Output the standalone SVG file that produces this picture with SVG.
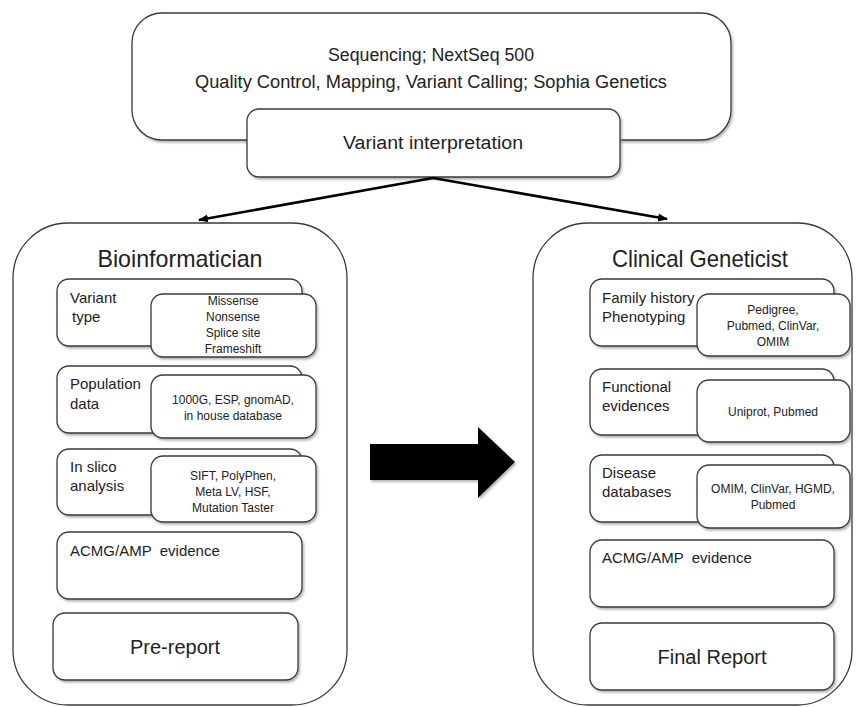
<svg xmlns="http://www.w3.org/2000/svg" width="856" height="707" viewBox="0 0 856 707">
<defs>
<filter id="sh" x="-10%" y="-10%" width="130%" height="130%">
<feDropShadow dx="1.5" dy="2" stdDeviation="1.2" flood-color="#7a7a7a" flood-opacity="0.55"/>
</filter>
<marker id="ah" viewBox="0 0 10 10" refX="9" refY="5" markerWidth="4" markerHeight="4" orient="auto-start-reverse" markerUnits="strokeWidth">
<path d="M0,1 L10,5 L0,9 z" fill="#000"/>
</marker>
<style>
.box{fill:#fff;stroke:#3a3a3a;stroke-width:1.3;filter:url(#sh)}
.big{fill:#fff;stroke:#3a3a3a;stroke-width:1.3}
text{font-family:"Liberation Sans",Arial,sans-serif;fill:#222}
.t1{font-size:18px;text-anchor:middle}
.h{font-size:24px;text-anchor:middle}
.lbl{font-size:15px}
.sm{font-size:12px;text-anchor:middle}
.rep{font-size:20px;text-anchor:middle}
.conn{stroke:#000;stroke-width:2.5;fill:none}
</style>
</defs>
<rect width="856" height="707" fill="#fff"/>

<g id="top">
<rect class="box" x="132" y="13" width="599" height="127" rx="30"/>
<text class="t1" x="431" y="61" textLength="206" lengthAdjust="spacingAndGlyphs">Sequencing; NextSeq 500</text>
<text class="t1" x="431" y="88" textLength="472" lengthAdjust="spacingAndGlyphs">Quality Control, Mapping, Variant Calling; Sophia Genetics</text>
</g>
<g id="variant-interpretation">
<rect class="box" x="247" y="109" width="373" height="68" rx="12"/>
<text class="t1" x="433" y="149" textLength="180" lengthAdjust="spacingAndGlyphs">Variant interpretation</text>
</g>

<g id="connectors">
<line class="conn" x1="433" y1="178" x2="199" y2="220" marker-end="url(#ah)"/>
<line class="conn" x1="433" y1="178" x2="667" y2="219" marker-end="url(#ah)"/>
<path d="M370,444 H478 V427 L515,462 L478,498 V480 H370 Z" fill="#000" filter="url(#sh)"/>
</g>

<g id="bioinformatician">
<rect class="big" x="13" y="223" width="334" height="482" rx="55"/>
<text class="h" x="180" y="267" textLength="165" lengthAdjust="spacingAndGlyphs">Bioinformatician</text>
</g>
<g id="variant-type">
<rect class="box" x="57" y="279" width="245" height="67" rx="12"/>
<text class="lbl" x="70" y="303">Variant</text>
<text class="lbl" x="72" y="322">type</text>
<rect class="box" x="151" y="294" width="165" height="63" rx="12"/>
<text class="sm" x="233" y="305">Missense</text>
<text class="sm" x="233" y="321">Nonsense</text>
<text class="sm" x="233" y="337">Splice site</text>
<text class="sm" x="233" y="353">Frameshift</text>
</g>
<g id="population-data">
<rect class="box" x="57" y="366" width="245" height="67" rx="12"/>
<text class="lbl" x="70" y="389">Population</text>
<text class="lbl" x="70" y="409">data</text>
<rect class="box" x="151" y="375" width="165" height="63" rx="12"/>
<text class="sm" x="233" y="404">1000G, ESP, gnomAD,</text>
<text class="sm" x="233" y="420">in house database</text>
</g>
<g id="in-silico">
<rect class="box" x="57" y="449" width="245" height="66" rx="12"/>
<text class="lbl" x="70" y="472">In slico</text>
<text class="lbl" x="70" y="491">analysis</text>
<rect class="box" x="151" y="456" width="165" height="66" rx="12"/>
<text class="sm" x="233" y="480">SIFT, PolyPhen,</text>
<text class="sm" x="233" y="496">Meta LV, HSF,</text>
<text class="sm" x="233" y="512">Mutation Taster</text>
</g>
<g id="acmg-left">
<rect class="box" x="57" y="532" width="245" height="67" rx="12"/>
<text class="lbl" x="70" y="556" xml:space="preserve">ACMG/AMP  evidence</text>
</g>
<g id="pre-report">
<rect class="box" x="53" y="613" width="245" height="67" rx="12"/>
<text class="rep" x="175" y="654">Pre-report</text>
</g>

<g id="clinical-geneticist">
<rect class="big" x="533" y="223" width="319" height="482" rx="55"/>
<text class="h" x="700" y="267" textLength="176" lengthAdjust="spacingAndGlyphs">Clinical Geneticist</text>
</g>
<g id="family-history">
<rect class="box" x="590" y="279" width="244" height="67" rx="12"/>
<text class="lbl" x="602" y="303">Family history</text>
<text class="lbl" x="602" y="322">Phenotyping</text>
<rect class="box" x="697" y="294" width="153" height="62" rx="12"/>
<text class="sm" x="773" y="314">Pedigree,</text>
<text class="sm" x="773" y="330">Pubmed, ClinVar,</text>
<text class="sm" x="773" y="346">OMIM</text>
</g>
<g id="functional">
<rect class="box" x="590" y="369" width="244" height="66" rx="12"/>
<text class="lbl" x="602" y="392">Functional</text>
<text class="lbl" x="602" y="411">evidences</text>
<rect class="box" x="697" y="380" width="153" height="62" rx="12"/>
<text class="sm" x="773" y="416">Uniprot, Pubmed</text>
</g>
<g id="disease-databases">
<rect class="box" x="590" y="455" width="244" height="67" rx="12"/>
<text class="lbl" x="602" y="478">Disease</text>
<text class="lbl" x="602" y="497">databases</text>
<rect class="box" x="697" y="465" width="153" height="63" rx="12"/>
<text class="sm" x="773" y="493">OMIM, ClinVar, HGMD,</text>
<text class="sm" x="773" y="509">Pubmed</text>
</g>
<g id="acmg-right">
<rect class="box" x="590" y="540" width="244" height="67" rx="12"/>
<text class="lbl" x="602" y="563" xml:space="preserve">ACMG/AMP  evidence</text>
</g>
<g id="final-report">
<rect class="box" x="590" y="623" width="244" height="67" rx="12"/>
<text class="rep" x="712" y="664">Final Report</text>
</g>
</svg>
